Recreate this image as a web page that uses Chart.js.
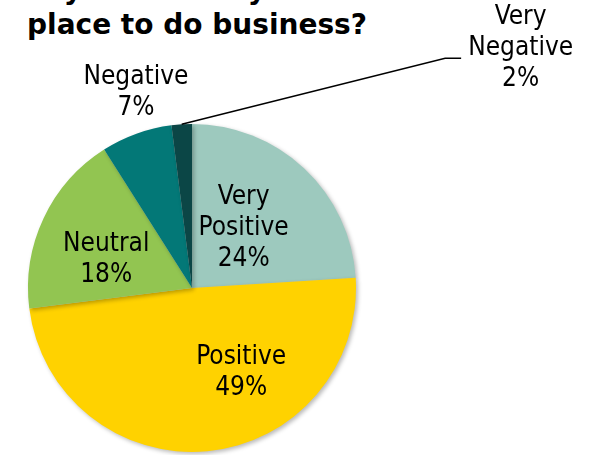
<!DOCTYPE html>
<html>
<head>
<meta charset="utf-8">
<script src="https://cdn.jsdelivr.net/npm/chart.js@4/dist/chart.umd.min.js"></script>
<style>
  html, body { margin: 0; padding: 0; background: #ffffff; }
  #wrap { position: relative; width: 592px; height: 455px; overflow: hidden; }
  #title {
    position: absolute; left: 27px; top: -28px; margin: 0;
    font-family: "DejaVu Sans", sans-serif;
    font-weight: bold; font-size: 28px; line-height: 35px; color: #000;
    white-space: nowrap;
  }
  canvas { position: absolute; left: 0; top: 0; }
</style>
</head>
<body>
<div id="wrap">
  <div id="title">Is your country a<br>place to do business?</div>
  <canvas id="pie" width="592" height="455"></canvas>
</div>
<script>
// Survey answers and their shares (percent)
const categories = ["Very Positive", "Positive", "Neutral", "Negative", "Very Negative"];
const shares = [24, 49, 18, 7, 2];
const sliceColors = ["#9dc9be", "#ffd200", "#92c551", "#037877", "#0b4646"];

// Where each label sits: angle clockwise from 12 o'clock (deg), distance as a fraction of the radius
const labelPlacement = [
  { angle: 41, dist: 0.48 },
  { angle: 150, dist: 0.60 },
  { angle: 288, dist: 0.55 },
  { angle: 344, dist: 1.24 },
  { angle: 53.9, dist: 2.48, leader: true }
];

const labelFont = '26px "DejaVu Sans Condensed", "DejaVu Sans", sans-serif';
const lineHeight = 31;

const shadowPlugin = {
  id: 'pieShadow',
  beforeDatasetDraw(chart) {
    const ctx = chart.ctx;
    ctx.save();
    ctx.shadowColor = 'rgba(0,0,0,0.28)';
    ctx.shadowBlur = 4;
    ctx.shadowOffsetX = 2;
    ctx.shadowOffsetY = 2;
  },
  afterDatasetDraw(chart) {
    chart.ctx.restore();
  }
};

const labelPlugin = {
  id: 'sliceLabels',
  afterDatasetsDraw(chart) {
    const ctx = chart.ctx;
    const arcs = chart.getDatasetMeta(0).data;
    ctx.save();
    ctx.font = labelFont;
    ctx.fillStyle = '#000';
    ctx.textAlign = 'center';
    ctx.textBaseline = 'middle';
    arcs.forEach((arc, i) => {
      const p = labelPlacement[i];
      const r = arc.outerRadius;
      const a = p.angle * Math.PI / 180;
      const cx = arc.x + Math.sin(a) * r * p.dist;
      const cy = arc.y - Math.cos(a) * r * p.dist;
      const words = categories[i].split(' ');
      const lines = words.concat([shares[i] + '%']);
      const top = cy - (lines.length - 1) * lineHeight / 2;
      lines.forEach((t, k) => ctx.fillText(t, cx, top + k * lineHeight));

      if (p.leader) {
        const mid = (arc.startAngle + arc.endAngle) / 2;
        const sx = arc.x + Math.cos(mid) * r;
        const sy = arc.y + Math.sin(mid) * r;
        const widest = Math.max(...lines.map(t => ctx.measureText(t).width));
        const ex = cx - widest / 2 - 7;
        const ey = cy + 10;
        ctx.beginPath();
        ctx.moveTo(sx, sy);
        ctx.lineTo(ex - 16, ey);
        ctx.lineTo(ex, ey);
        ctx.strokeStyle = '#000';
        ctx.lineWidth = 1.5;
        ctx.stroke();
      }
    });
    ctx.restore();
  }
};

new Chart(document.getElementById('pie'), {
  type: 'pie',
  data: {
    labels: categories,
    datasets: [{
      data: shares,
      backgroundColor: sliceColors,
      borderWidth: 0,
      hoverOffset: 0
    }]
  },
  options: {
    responsive: false,
    animation: false,
    events: [],
    layout: { padding: { left: 28, right: 236, top: 124, bottom: 3 } },
    plugins: {
      legend: { display: false },
      tooltip: { enabled: false },
      title: { display: false }
    }
  },
  plugins: [shadowPlugin, labelPlugin]
});
</script>
</body>
</html>
